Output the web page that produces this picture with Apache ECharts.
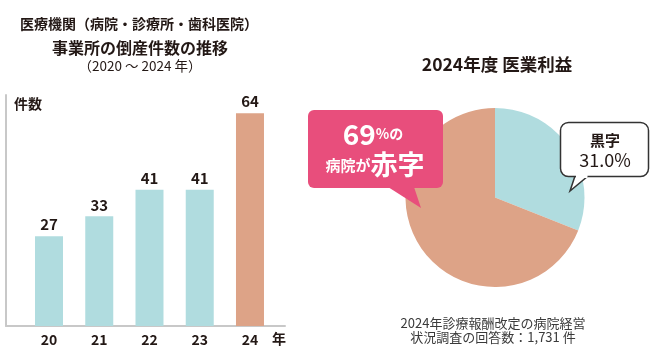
<!DOCTYPE html>
<html><head><meta charset="utf-8">
<script src="https://cdn.jsdelivr.net/npm/echarts@6/dist/echarts.min.js"></script>
<style>html,body{margin:0;padding:0;background:#fff}#c{width:650px;height:349px}</style>
</head><body><div id="c"></div>
<script>
const years = ['20', '21', '22', '23', '24'];
const counts = [27, 33, 41, 41, 64];
const pieNames = ['黒字', '赤字'];
const pieValues = [31.0, 69.0];

const FONT = '"Noto Sans CJK JP", "Noto Sans", sans-serif';
const BLUE = '#b0dcdf';
const SALMON = '#dda387';
const PINK = '#e84e7c';
const DARK = '#231815';

const chart = echarts.init(document.getElementById('c'));
const barData = counts.map((v, i) => ({
  value: [Number(years[i]), v],
  itemStyle: { color: i === counts.length - 1 ? SALMON : BLUE }
}));

function txt(x, y, text, size, weight, color, align) {
  return { type: 'text', z: 100, x: x, y: y, style: { text: text, fontSize: size, fontWeight: weight || 'normal', fill: color || DARK, fontFamily: FONT, align: align || 'center', verticalAlign: 'middle' } };
}

chart.setOption({
  animation: false,
  grid: { left: 6, right: 365, top: 95, bottom: 23 },
  xAxis: {
    type: 'value', min: 19.144, max: 24.697,
    splitLine: { show: false }, axisTick: { show: false },
    axisLine: { show: true, lineStyle: { color: '#c8c8c8', width: 2 } },
    axisLabel: { customValues: years.map(Number), formatter: v => String(Math.round(v)), fontSize: 14, fontWeight: 'bold', color: DARK, fontFamily: FONT, margin: 7 }
  },
  yAxis: {
    type: 'value', min: 0, max: 69.5,
    splitLine: { show: false }, axisTick: { show: false }, axisLabel: { show: false },
    axisLine: { show: true, lineStyle: { color: '#c8c8c8', width: 2 } }
  },
  series: [
    {
      type: 'bar', data: barData, barWidth: 28,
      label: { show: true, position: 'top', distance: 4, formatter: p => p.value[1], fontSize: 15, fontWeight: 'bold', color: DARK, fontFamily: FONT }
    },
    {
      type: 'pie', center: [495, 197.5], radius: 89.5, startAngle: 90, clockwise: true, z: 1,
      label: { show: false }, labelLine: { show: false }, silent: true,
      data: pieNames.map((n, i) => ({ name: n, value: pieValues[i], itemStyle: { color: i === 0 ? BLUE : SALMON } }))
    }
  ],
  graphic: [
    txt(139, 24, '医療機関（病院・診療所・歯科医院）', 14, 'bold'),
    txt(140, 48, '事業所の倒産件数の推移', 16, 'bold'),
    txt(140, 66, '（2020 ～ 2024 年）', 13.5, 'normal'),
    txt(14, 104, '件数', 14, 'bold', DARK, 'left'),
    txt(279, 339, '年', 14, 'bold'),
    txt(497, 64, '2024年度 医業利益', 17.5, 'bold'),
    txt(493, 323, '2024年診療報酬改定の病院経営', 13, 'normal', '#3a3a3a'),
    txt(493, 337, '状況調査の回答数：1,731 件', 13, 'normal', '#3a3a3a'),
    // pink callout
    { type: 'rect', z: 100, shape: { x: 308, y: 110, width: 135, height: 78, r: 6 }, style: { fill: PINK } },
    { type: 'polygon', z: 100, shape: { points: [[388, 187], [414, 187], [421, 208]] }, style: { fill: PINK } },
    { type: 'text', z: 101, x: 373, y: 134, style: { rich: { a: { fontSize: 28, fontWeight: 'bold', fill: '#fff', fontFamily: FONT }, b: { fontSize: 14, fontWeight: 'bold', fill: '#fff', fontFamily: FONT } }, text: '{a|' + Math.round(pieValues[1]) + '}{b|%の}', align: 'center', verticalAlign: 'middle' } },
    { type: 'text', z: 101, x: 375, y: 165, style: { rich: { a: { fontSize: 15, fontWeight: 'bold', fill: '#fff', fontFamily: FONT }, b: { fontSize: 27, fontWeight: 'bold', fill: '#fff', fontFamily: FONT } }, text: '{a|病院が}{b|赤字}', align: 'center', verticalAlign: 'middle' } },
    // black callout
    { type: 'polygon', z: 100, shape: { points: [[575, 176], [588, 176], [570, 191]] }, style: { fill: '#fff', stroke: '#333', lineWidth: 1.5 } },
    { type: 'rect', z: 100, shape: { x: 560.5, y: 122.5, width: 88, height: 54, r: 8 }, style: { fill: '#fff', stroke: '#333', lineWidth: 1.5 } },
    { type: 'rect', z: 100, shape: { x: 576, y: 174, width: 11.5, height: 4 }, style: { fill: '#fff' } },
    txt(605, 140, '黒字', 15, 'bold'),
    txt(605, 160, pieValues[0].toFixed(1) + '%', 18, 'normal')
  ]
});
</script></body></html>
